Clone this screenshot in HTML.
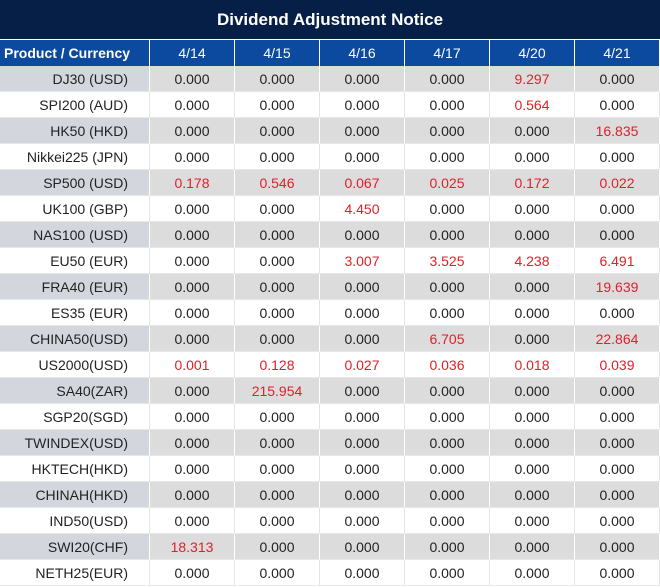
<!DOCTYPE html><html><head><style>
body{margin:0;width:660px;height:587px;background:#fff;font-family:"Liberation Sans",sans-serif;overflow:hidden;position:relative}
.t{position:absolute;left:0;top:0;width:660px;height:39px;background:#061f47;color:#fff;font-weight:bold;font-size:17px;text-align:center;line-height:39px}
.c{position:absolute;box-sizing:border-box;height:26px;line-height:26px;font-size:14px;color:#222;text-align:center;border-right:1px solid #e4e4e4;border-bottom:1px solid #e8e8e8}
.h{background:#0b4a9e;color:#fff;border-right:1px solid #fff;border-bottom:none}
.r{color:#e0202a}
</style></head><body><div class="t">Dividend Adjustment Notice</div>
<div id="g"></div>
<script>
var cols=[0,150,235,320,405,490,575,660];
var hd=["Product / Currency","4/14","4/15","4/16","4/17","4/20","4/21"];
var d=[["DJ30 (USD)",0,0,0,0,"9.297",0],["SPI200 (AUD)",0,0,0,0,"0.564",0],["HK50 (HKD)",0,0,0,0,0,"16.835"],["Nikkei225 (JPN)",0,0,0,0,0,0],["SP500 (USD)","0.178","0.546","0.067","0.025","0.172","0.022"],["UK100 (GBP)",0,0,"4.450",0,0,0],["NAS100 (USD)",0,0,0,0,0,0],["EU50 (EUR)",0,0,"3.007","3.525","4.238","6.491"],["FRA40 (EUR)",0,0,0,0,0,"19.639"],["ES35 (EUR)",0,0,0,0,0,0],["CHINA50(USD)",0,0,0,"6.705",0,"22.864"],["US2000(USD)","0.001","0.128","0.027","0.036","0.018","0.039"],["SA40(ZAR)",0,"215.954",0,0,0,0],["SGP20(SGD)",0,0,0,0,0,0],["TWINDEX(USD)",0,0,0,0,0,0],["HKTECH(HKD)",0,0,0,0,0,0],["CHINAH(HKD)",0,0,0,0,0,0],["IND50(USD)",0,0,0,0,0,0],["SWI20(CHF)","18.313",0,0,0,0,0],["NETH25(EUR)",0,0,0,0,0,0]];
var h="";
for(var j=0;j<7;j++){h+='<div class="c h" style="left:'+cols[j]+'px;top:40px;width:'+(cols[j+1]-cols[j])+'px;'+(j==0?'font-weight:bold;text-align:left;padding-left:4px':'')+'">'+hd[j]+'</div>';}
for(var i=0;i<20;i++){var y=66+i*26,g=i%2==0;
for(var j=0;j<7;j++){var v=d[i][j],red=j>0&&v!==0,txt=v===0?"0.000":v;
var bg=g?(j==0?"#d3d7dd":"#dcdcdc"):"#fff";var bc=g?"#fff":"#e4e4e4";
h+='<div class="c'+(red?' r':'')+'" style="left:'+cols[j]+'px;top:'+y+'px;width:'+(cols[j+1]-cols[j])+'px;background:'+bg+';border-right-color:'+bc+';'+(j==0?'text-align:right;padding-right:21px':'')+'">'+txt+'</div>';}}
document.getElementById("g").innerHTML=h;
</script></body></html>
